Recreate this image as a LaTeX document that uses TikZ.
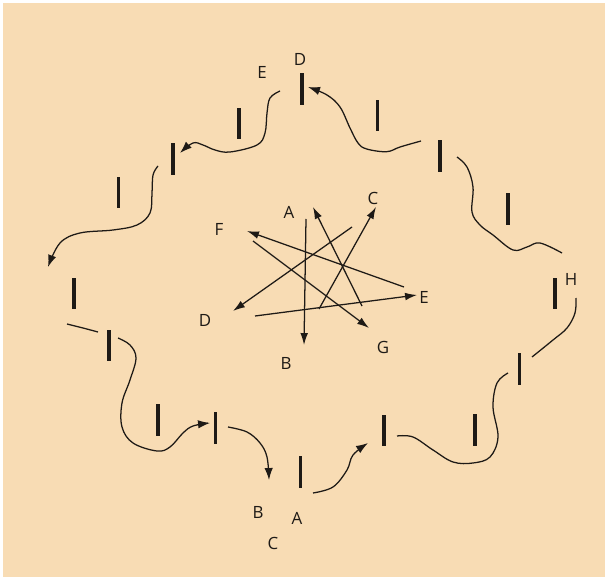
\documentclass[tikz,border=0pt]{standalone}
\usepackage{fontspec}
\setmainfont{Open Sans}
\usetikzlibrary{arrows.meta}
\definecolor{paper}{HTML}{F8DCB4}
\definecolor{ink}{HTML}{1E1A16}

\begin{document}
\begin{tikzpicture}[x=0.025cm, y=-0.025cm,
  bar/.style={fill=ink, minimum width=2.2pt, minimum height=22.5pt, inner sep=0pt},
  wave/.style={draw=ink, line width=0.9pt},
  wavearrow/.style={wave, -{Latex[length=8.5pt,width=6pt]}},
  star/.style={draw=ink, line width=0.9pt, -{Latex[length=8.5pt,width=5.5pt]}},
  letter/.style={font=\fontsize{12}{14}\selectfont, text=ink, inner sep=1pt},
]
\useasboundingbox (0,0) rectangle (605,577);
\fill[white] (0,0) rectangle (605,577);
\fill[paper] (3,3) rectangle (605,577);

% outer ring of marks
\node[bar] (bD) at (302,89) {};
\node[bar] (b2) at (239,123.5) {};
\node[bar] (b3) at (173,159) {};
\node[bar] (b4) at (118.5,192.5) {};
\node[bar] (b5) at (74,293.5) {};
\node[bar] (b6) at (109,345.5) {};
\node[bar] (b7) at (158,420) {};
\node[bar] (b8) at (215.5,428) {};
\node[bar] (bA) at (300.5,472) {};
\node[bar] (b10) at (384,430.5) {};
\node[bar] (b11) at (475,430) {};
\node[bar] (b12) at (519.5,369) {};
\node[bar] (bH) at (555,293.5) {};
\node[bar] (b14) at (508,209) {};
\node[bar] (b15) at (440,156) {};
\node[bar] (b16) at (377.5,115.5) {};

\node[letter] (oD) at (300,59) {D};
\node[letter] (oE) at (262,72) {E};
\node[letter] (oH) at (571,279) {H};
\node[letter] (oB) at (258,512) {B};
\node[letter] (oA) at (297,518) {A};
\node[letter] (oC) at (273,543) {C};

% wavy links
\draw[wavearrow] plot[smooth, tension=0.6] coordinates {([shift={(-19,-15)}]b15.center)
  (400,147) (386.7,151.7) (366.7,149) (358,143) (350,128) (340,107) (327,95)
  ([shift={(6,-2)}]bD.center)};
\draw[wavearrow] plot[smooth, tension=0.6] coordinates {([shift={(-22,2)}]bD.center)
  (270,98) (267,113) (265,133) (257,145) (230,152) (215,150) (203,145) (193,143)
  ([shift={(7,-6)}]b3.center)};
\draw[wavearrow] plot[smooth, tension=0.6] coordinates {([shift={(-15,7)}]b3.center)
  (153,175) (152,193) (150,213) (137,225) (113,230) (80,233) (60,243)
  ([shift={(-26,-26.5)}]b5.center)};
\draw[wave] plot[smooth] coordinates {([shift={(-7,30.5)}]b5.center) (83,328)
  ([shift={(-11,-13.5)}]b6.center)};
\draw[wavearrow] plot[smooth, tension=0.6] coordinates {([shift={(9,-7.5)}]b6.center)
  (130,345) (136,358) (130,380) (122,403) (122,427) (133,443) (157,451) (170,447)
  (183,433) (193,426) ([shift={(-5.5,-5)}]b8.center)};
\draw[wavearrow] plot[smooth, tension=0.6] coordinates {([shift={(12.5,-1)}]b8.center)
  (247,432) (260,443) (267,457) ([shift={(-31.5,8)}]bA.center)};
\draw[wavearrow] plot[smooth, tension=0.6] coordinates {([shift={(12.5,21)}]bA.center)
  (333,487) (347,470) (353,455) ([shift={(-16,12.5)}]b10.center)};
\draw[wave] plot[smooth, tension=0.6] coordinates {([shift={(13,5.5)}]b10.center)
  (413,437) (433,450) (453,462) (473,463) (490,457) (498,437) (493,407) (497,383)
  ([shift={(-11.5,4)}]b12.center)};
\draw[wave] plot[smooth, tension=0.6] coordinates {([shift={(12.5,-12)}]b12.center)
  (553,340) (567,328) (575,313) ([shift={(21,4.5)}]bH.center)};
\draw[wave] plot[smooth, tension=0.6] coordinates {([shift={(17,1)}]b15.center)
  (467,167) (473,187) (472,212) (480,225) (493,235) (513,250) (527,247) (540,243)
  ([shift={(7,-40.5)}]bH.center)};

% inner star
\node[letter] (cA) at (289,212) {A};
\node[letter] (cB) at (286,363) {B};
\node[letter] (cC) at (373,198) {C};
\node[letter] (cD) at (205,320) {D};
\node[letter] (cE) at (424,297) {E};
\node[letter] (cF) at (219,229) {F};
\node[letter] (cG) at (383,347) {G};

\coordinate (t1) at (306,219);  \coordinate (h1) at (304,345);
\coordinate (t2) at (362,306);  \coordinate (h2) at (313,207);
\coordinate (t3) at (319,309);  \coordinate (h3) at (376,207);
\coordinate (t4) at (404,287);  \coordinate (h4) at (247,231);
\coordinate (t5) at (253,241);  \coordinate (h5) at (369,328);
\coordinate (t6) at (352,227);  \coordinate (h6) at (233,311);
\coordinate (t7) at (255,316);  \coordinate (h7) at (417,295);

\foreach \i in {1,...,7}
  \draw[star] (t\i) -- (h\i);

\end{tikzpicture}
\end{document}
